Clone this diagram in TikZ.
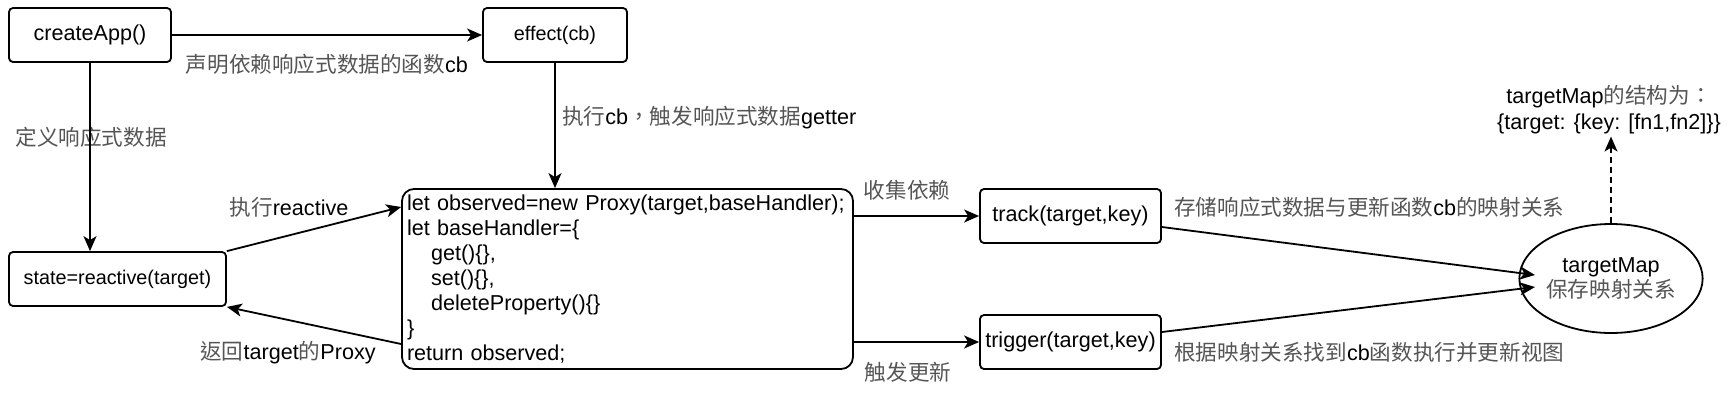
\documentclass[tikz,border=0pt]{standalone}
\usepackage{fontspec}
\setmainfont{Liberation Sans}
\newfontfamily\cjkf{Noto Sans CJK TC}[Color=555555]
\newcommand\zh[1]{{\cjkf #1}}
\usetikzlibrary{arrows.meta,shapes.geometric,calc}
\begin{document}
\begin{tikzpicture}[x=1pt,y=-1pt,
  bigf/.style={font=\fontsize{21.6}{25}\selectfont},
  smallf/.style={font=\fontsize{19.8}{24}\selectfont},
  box/.style={draw, line width=1.8pt, rounded corners=4pt, inner sep=0pt, minimum height=54pt, bigf},
  conn/.style={line width=1.8pt, -{Stealth[length=15pt,width=13pt,inset=4pt]}},
  lbl/.style={inner sep=0pt, bigf}]
\useasboundingbox (0,0) rectangle (1735,400);

\node[box, minimum width=162pt] (app) at (90,35) {createApp()};
\node[box, minimum width=144pt, smallf] (eff) at (555,35) {effect(cb)};
\node[box, minimum width=217pt, smallf] (st) at (117.5,279) {state=reactive(target)};
\node[box, rounded corners=12pt, minimum width=451pt, minimum height=180pt, text width=441pt, align=left] (code) at (627.5,279)
  {let observed=new Proxy(target,baseHandler);\\
   let baseHandler=\{\\
   \hspace*{24pt}get()\{\},\\
   \hspace*{24pt}set()\{\},\\
   \hspace*{24pt}deleteProperty()\{\}\\
   \}\\
   return observed;};
\node[box, minimum width=181pt] (trk) at (1070.5,216) {track(target,key)};
\node[box, minimum width=181pt] (trg) at (1070.5,342) {trigger(target,key)};
\node[draw, ellipse, line width=1.8pt, minimum width=150pt, minimum height=109pt, inner sep=0pt, align=center, bigf] (tm) at (1611,278.5) {targetMap\\\zh{保存映射关系}};
\node[lbl, align=center, inner sep=2pt, font=\fontsize{21.6}{26}\selectfont] (struct) at (1609,110) {targetMap\zh{的结构为：}\\\{target: \{key: [fn1,fn2]\}\}};

\node[lbl] (l1) at (327,64) {\zh{声明依赖响应式数据的函数}cb};
\node[lbl] (l2) at (91,137) {\zh{定义响应式数据}};
\node[lbl, anchor=west] (l3) at (562,118) {\zh{执行}cb\zh{，触发响应式数据}getter};
\node[lbl] (l4) at (289,207) {\zh{执行}reactive};
\node[lbl] (l5) at (288,353) {\zh{返回}target\zh{的}Proxy};
\node[lbl] (l6) at (907,190) {\zh{收集依赖}};
\node[lbl] (l7) at (908,372) {\zh{触发更新}};
\node[lbl, anchor=west] (l8) at (1174,207) {\zh{存储响应式数据与更新函数}cb\zh{的映射关系}};
\node[lbl, anchor=west] (l9) at (1174,352) {\zh{根据映射关系找到}cb\zh{函数执行并更新视图}};

\draw[conn] (app) -- (eff);
\draw[conn] (app.south) -- (app.south |- st.north);
\draw[conn] (eff.south) -- (eff.south |- code.north);
\draw[conn] (st.north east) -- ($(code.west)+(0,-72)$);
\draw[conn] ($(code.west)+(0,65)$) -- (st.south east);
\draw[conn] (code.east |- trk.west) -- (trk.west);
\draw[conn] (code.east |- trg.west) -- (trg.west);
\draw[conn] ($(trk.east)+(0,11)$) -- ($(tm.center)+(-76,-3.5)$);
\draw[conn] ($(trg.east)+(0,-10)$) -- ($(tm.center)+(-76,8.5)$);
\draw[conn, dash pattern=on 6pt off 4pt] (tm.north) -- (tm.north |- struct.south);
\end{tikzpicture}
\end{document}
